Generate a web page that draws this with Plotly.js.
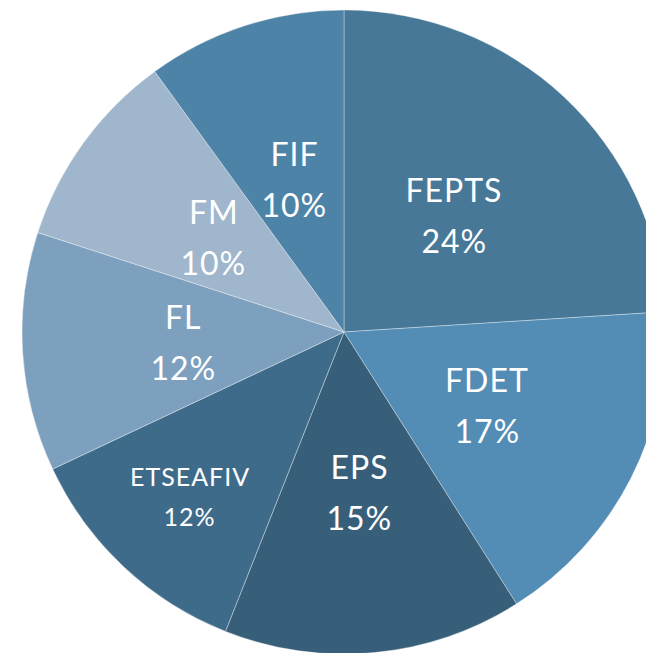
<!DOCTYPE html>
<html><head><meta charset="utf-8">
<script src="https://cdn.plot.ly/plotly-3.0.1.min.js"></script>
<style>
html,body{margin:0;padding:0;width:646px;height:653px;overflow:hidden;background:#fff;}
#chart{position:absolute;left:22px;top:10px;width:644px;height:644px;}
#chart .annotation-text{letter-spacing:1px;}
</style></head><body>
<div id="chart"></div>
<script>
// data
const labels = ["FEPTS","FDET","EPS","ETSEAFIV","FL","FM","FIF"];
const values = [24,17,15,12,12,10,10];

// styles
const colors = ["#477898","#538cb4","#375f7a","#3f6b8a","#7ca0be","#a0b6cc","#4e83a8"];
const fontSizes = [32,32,32,25,32,32,32];
const labelRadius = [0.5,0.5,0.5,0.7,0.5,0.5,0.5]; // fraction of pie radius

const total = values.reduce((a,b)=>a+b,0);
const annotations = [];
let cum = 0;
values.forEach((v,i)=>{
  const mid = (cum + v/2)/total*2*Math.PI; // clockwise from top
  cum += v;
  const r = 0.5*labelRadius[i];
  const x = 0.5 + r*Math.sin(mid);
  const y = 0.5 + r*Math.cos(mid);
  const gap = fontSizes[i]*1.6/2;
  const font = {family:'Lato', size:fontSizes[i], color:'#ffffff'};
  annotations.push({xref:'paper',yref:'paper',x:x,y:y,text:labels[i],showarrow:false,
    xanchor:'center',yanchor:'middle',yshift:gap,font:font});
  annotations.push({xref:'paper',yref:'paper',x:x,y:y,text:Math.round(v/total*100)+'%',showarrow:false,
    xanchor:'center',yanchor:'middle',yshift:-gap,font:font});
});

Plotly.newPlot('chart', [{
  type:'pie',
  labels: labels,
  values: values,
  sort:false,
  direction:'clockwise',
  rotation:0,
  marker:{colors:colors, line:{color:'rgba(255,255,255,0.35)', width:1}},
  textinfo:'none',
  hoverinfo:'none'
}], {
  width:644, height:644,
  margin:{l:0,r:0,t:0,b:0},
  showlegend:false,
  annotations: annotations,
  paper_bgcolor:'rgba(0,0,0,0)'
}, {displayModeBar:false, staticPlot:true});
</script>
</body></html>
